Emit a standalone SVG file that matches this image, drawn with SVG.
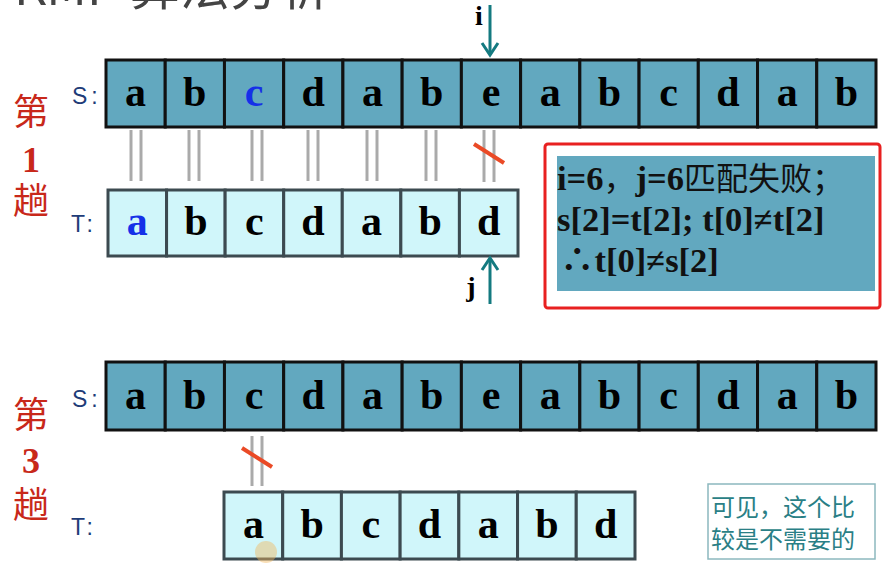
<svg xmlns="http://www.w3.org/2000/svg" width="889" height="578" viewBox="0 0 889 578">
<defs>
<style>
.s{fill:#62A8BF;stroke:#111;stroke-width:3}
.t{fill:#D0F6FA;stroke:#3C4A50;stroke-width:3}
.ch{font-family:"Liberation Serif",serif;font-weight:bold;font-size:42px;fill:#000;text-anchor:middle}
.blue{fill:#1530E8}
.lbl{font-family:"Liberation Sans","DejaVu Sans",sans-serif;font-size:23px;fill:#1E3C78;letter-spacing:4px}
.red{font-family:"Noto Sans CJK SC",serif;font-size:36px;fill:#C8281A;text-anchor:middle}
.rednum{font-family:"Liberation Serif",serif;font-weight:bold;font-size:36px;fill:#C8281A;text-anchor:middle}
.eq{stroke:#AAAAAA;stroke-width:3}
.no{stroke:#EA4A26;stroke-width:4}
.arr{stroke:#147A80;stroke-width:3;fill:none}
.ptr{font-family:"Liberation Serif",serif;font-weight:bold;font-size:28px;fill:#000;text-anchor:middle}
.note{font-family:"Liberation Serif","Noto Sans CJK SC",serif;font-weight:bold;font-size:34.5px;fill:#111}
.cjk{font-family:"Noto Sans CJK SC",sans-serif;font-weight:normal;font-size:32px}
.note2{font-family:"Noto Sans CJK SC",sans-serif;font-size:24px;fill:#2A7F86}
</style>
</defs>
<g id="title"><text x="14" y="5" font-family="Noto Sans CJK SC,sans-serif" font-size="50" fill="#444">KMP 算法分析</text></g>

<g id="pass1-label">
<text class="red" x="31" y="125">第</text>
<text class="rednum" x="31" y="172">1</text>
<text class="red" x="31" y="214">趟</text>
</g>
<g id="pass3-label">
<text class="red" x="31" y="428">第</text>
<text class="rednum" x="31" y="473">3</text>
<text class="red" x="31" y="518">趟</text>
</g>

<g id="s1">
<text class="lbl" x="72" y="104">S:</text>
<g class="s">
<rect x="106" y="60" width="59.23" height="67"/><rect x="165.23" y="60" width="59.23" height="67"/><rect x="224.46" y="60" width="59.23" height="67"/><rect x="283.69" y="60" width="59.23" height="67"/><rect x="342.92" y="60" width="59.23" height="67"/><rect x="402.15" y="60" width="59.23" height="67"/><rect x="461.38" y="60" width="59.23" height="67"/><rect x="520.61" y="60" width="59.23" height="67"/><rect x="579.84" y="60" width="59.23" height="67"/><rect x="639.07" y="60" width="59.23" height="67"/><rect x="698.3" y="60" width="59.23" height="67"/><rect x="757.53" y="60" width="59.23" height="67"/><rect x="816.76" y="60" width="59.24" height="67"/>
</g>
<text class="ch" x="135.6" y="106">a</text><text class="ch" x="194.8" y="106">b</text><text class="ch blue" x="254.1" y="106">c</text><text class="ch" x="313.3" y="106">d</text><text class="ch" x="372.5" y="106">a</text><text class="ch" x="431.8" y="106">b</text><text class="ch" x="491" y="106">e</text><text class="ch" x="550.2" y="106">a</text><text class="ch" x="609.5" y="106">b</text><text class="ch" x="668.7" y="106">c</text><text class="ch" x="727.9" y="106">d</text><text class="ch" x="787.2" y="106">a</text><text class="ch" x="846.4" y="106">b</text>
</g>

<g id="t1">
<text class="lbl" x="71" y="232">T:</text>
<g class="t">
<rect x="108" y="190" width="58.57" height="66"/><rect x="166.57" y="190" width="58.57" height="66"/><rect x="225.14" y="190" width="58.57" height="66"/><rect x="283.71" y="190" width="58.57" height="66"/><rect x="342.28" y="190" width="58.57" height="66"/><rect x="400.85" y="190" width="58.57" height="66"/><rect x="459.42" y="190" width="58.58" height="66"/>
</g>
<text class="ch blue" x="137.3" y="235">a</text><text class="ch" x="195.9" y="235">b</text><text class="ch" x="254.4" y="235">c</text><text class="ch" x="313" y="235">d</text><text class="ch" x="371.6" y="235">a</text><text class="ch" x="430.1" y="235">b</text><text class="ch" x="488.7" y="235">d</text>
</g>

<g id="s3">
<text class="lbl" x="72" y="407">S:</text>
<g class="s">
<rect x="106" y="362" width="59.23" height="68"/><rect x="165.23" y="362" width="59.23" height="68"/><rect x="224.46" y="362" width="59.23" height="68"/><rect x="283.69" y="362" width="59.23" height="68"/><rect x="342.92" y="362" width="59.23" height="68"/><rect x="402.15" y="362" width="59.23" height="68"/><rect x="461.38" y="362" width="59.23" height="68"/><rect x="520.61" y="362" width="59.23" height="68"/><rect x="579.84" y="362" width="59.23" height="68"/><rect x="639.07" y="362" width="59.23" height="68"/><rect x="698.3" y="362" width="59.23" height="68"/><rect x="757.53" y="362" width="59.23" height="68"/><rect x="816.76" y="362" width="59.24" height="68"/>
</g>
<text class="ch" x="135.6" y="409">a</text><text class="ch" x="194.8" y="409">b</text><text class="ch" x="254.1" y="409">c</text><text class="ch" x="313.3" y="409">d</text><text class="ch" x="372.5" y="409">a</text><text class="ch" x="431.8" y="409">b</text><text class="ch" x="491" y="409">e</text><text class="ch" x="550.2" y="409">a</text><text class="ch" x="609.5" y="409">b</text><text class="ch" x="668.7" y="409">c</text><text class="ch" x="727.9" y="409">d</text><text class="ch" x="787.2" y="409">a</text><text class="ch" x="846.4" y="409">b</text>
</g>

<g id="t3">
<text class="lbl" x="71" y="535">T:</text>
<g class="t">
<rect x="224" y="492" width="58.71" height="67"/><rect x="282.71" y="492" width="58.71" height="67"/><rect x="341.42" y="492" width="58.71" height="67"/><rect x="400.13" y="492" width="58.71" height="67"/><rect x="458.84" y="492" width="58.71" height="67"/><rect x="517.55" y="492" width="58.71" height="67"/><rect x="576.26" y="492" width="58.74" height="67"/>
</g>
<text class="ch" x="253.4" y="538">a</text><text class="ch" x="312.1" y="538">b</text><text class="ch" x="370.8" y="538">c</text><text class="ch" x="429.5" y="538">d</text><text class="ch" x="488.2" y="538">a</text><text class="ch" x="546.9" y="538">b</text><text class="ch" x="605.6" y="538">d</text>
<circle cx="266" cy="552" r="11" fill="#F2B860" opacity="0.45"/>
</g>

<g id="connectors">
<g class="eq">
<line x1="131" y1="130" x2="131" y2="181"/><line x1="141" y1="130" x2="141" y2="181"/>
<line x1="189" y1="130" x2="189" y2="181"/><line x1="199" y1="130" x2="199" y2="181"/>
<line x1="252" y1="130" x2="252" y2="181"/><line x1="262" y1="130" x2="262" y2="181"/>
<line x1="308" y1="130" x2="308" y2="181"/><line x1="318" y1="130" x2="318" y2="181"/>
<line x1="367" y1="130" x2="367" y2="181"/><line x1="377" y1="130" x2="377" y2="181"/>
<line x1="426" y1="130" x2="426" y2="181"/><line x1="436" y1="130" x2="436" y2="181"/>
<line x1="484" y1="130" x2="484" y2="182"/><line x1="494" y1="130" x2="494" y2="182"/>
<line x1="252" y1="436" x2="252" y2="486"/><line x1="262" y1="436" x2="262" y2="486"/>
</g>
<line class="no" x1="474" y1="144" x2="504" y2="163"/>
<line class="no" x1="242" y1="448" x2="272" y2="467"/>
<g id="ptr-i">
<text class="ptr" x="479" y="25">i</text>
<line class="arr" x1="490" y1="5" x2="490" y2="54"/>
<polyline class="arr" points="482,43 490,55 498,43"/>
</g>
<g id="ptr-j">
<text class="ptr" x="471" y="296">j</text>
<line class="arr" x1="490" y1="304" x2="490" y2="259"/>
<polyline class="arr" points="482,270 490,258 498,270"/>
</g>
</g>

<g id="explain">
<rect x="545" y="144" width="335" height="164" rx="3" fill="none" stroke="#E82020" stroke-width="3"/>
<rect x="557" y="156" width="318" height="135" fill="#62A8BF"/>
<text class="note" x="557" y="190">i=6<tspan class="cjk">，</tspan>j=6<tspan class="cjk">匹配失败；</tspan></text>
<text class="note" x="557" y="231">s[2]=t[2]; t[0]≠t[2]</text>
<text class="note" x="560" y="272">∴t[0]≠s[2]</text>
</g>

<g id="note">
<rect x="708" y="484" width="167" height="75" fill="#fff" stroke="#8CB8BE" stroke-width="1.5"/>
<text class="note2" x="711" y="516">可见，这个比</text>
<text class="note2" x="711" y="548">较是不需要的</text>
</g>
</svg>
